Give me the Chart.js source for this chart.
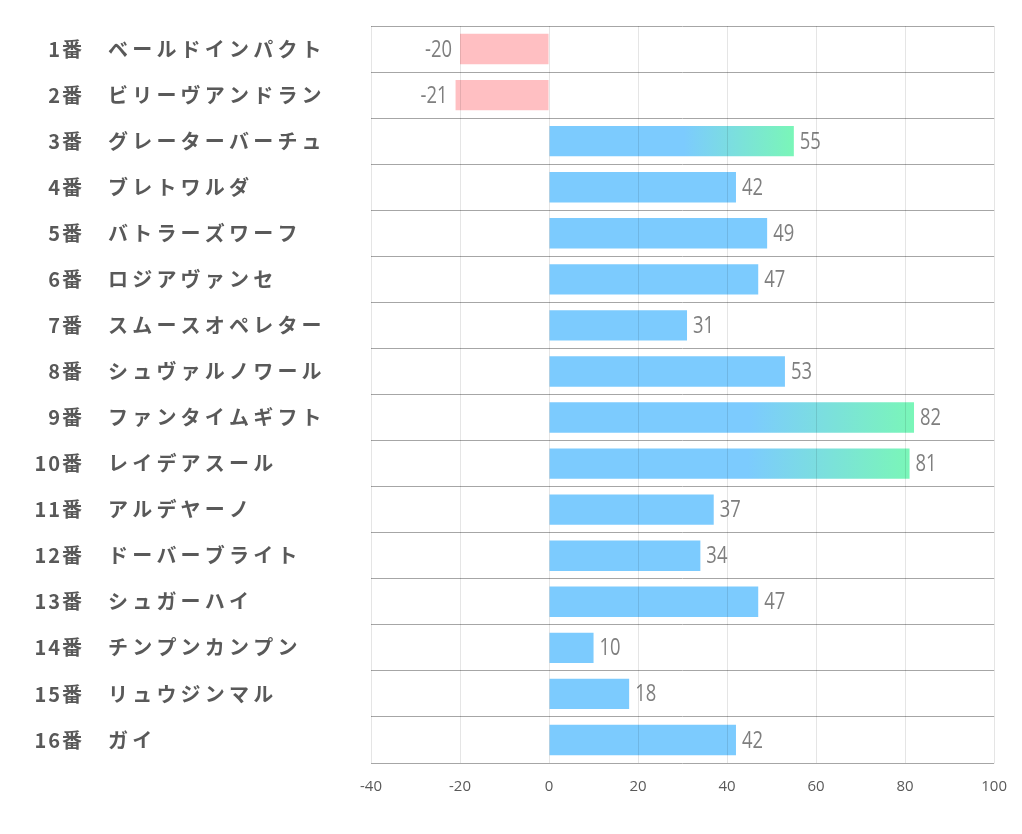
<!DOCTYPE html>
<html>
<head>
<meta charset="utf-8">
<script src="https://cdn.jsdelivr.net/npm/chart.js@4"></script>
<style>
    html, body { margin: 0; padding: 0; background: #fff; }
    #wrap { width: 1022px; height: 834px; position: relative; }
</style>
</head>
<body>
<div id="wrap"><canvas id="chart"></canvas></div>
<script>
// ================= DATA =================

const horseNumbers = ['1番', '2番', '3番', '4番', '5番', '6番', '7番', '8番',
    '9番', '10番', '11番', '12番', '13番', '14番', '15番', '16番'];
const horseNames = ['ベールドインパクト', 'ビリーヴアンドラン', 'グレーターバーチュ', 'ブレトワルダ',
    'バトラーズワーフ', 'ロジアヴァンセ', 'スムースオペレター', 'シュヴァルノワール',
    'ファンタイムギフト', 'レイデアスール', 'アルデヤーノ', 'ドーバーブライト',
    'シュガーハイ', 'チンプンカンプン', 'リュウジンマル', 'ガイ'];
const scores = [-20, -21, 55, 42, 49, 47, 31, 53, 82, 81, 37, 34, 47, 10, 18, 42];
const highlighted = [2, 8, 9];
const tickValues = [-40, -20, 0, 20, 40, 60, 80, 100];

// ================= COLORS =================

const BLUE = 'rgb(124, 203, 254)';
const GREEN = 'rgb(122, 246, 184)';
const PINK = 'rgb(255, 191, 194)';

function barColor(ctx) {
    const v = ctx.raw;
    if (v < 0) return PINK;
    if (!highlighted.includes(ctx.dataIndex)) return BLUE;
    const chart = ctx.chart;
    const xs = chart.scales.x;
    if (!chart.chartArea || !xs) return BLUE;
    const g = chart.ctx.createLinearGradient(xs.getPixelForValue(0), 0, xs.getPixelForValue(v), 0);
    g.addColorStop(0, BLUE);
    g.addColorStop(0.55, BLUE);
    g.addColorStop(1, GREEN);
    return g;
}

// ================= PLUGINS =================

const rowLabels = {
    id: 'rowLabels',
    afterDraw(chart) {
        const { ctx, scales: { y } } = chart;
        ctx.save();
        ctx.fillStyle = '#595959';
        ctx.font = 'bold 20px "Noto Sans CJK JP", sans-serif';
        ctx.textBaseline = 'middle';
        horseNames.forEach((name, i) => {
            const py = y.getPixelForValue(i);
            ctx.letterSpacing = '2px';
            ctx.textAlign = 'right';
            ctx.fillText(horseNumbers[i], 84, py);
            ctx.letterSpacing = '4.2px';
            ctx.textAlign = 'left';
            ctx.fillText(name, 108, py);
        });
        ctx.restore();
    }
};

// value text is a bit condensed, squeeze it horizontally
const valueLabels = {
    id: 'valueLabels',
    afterDatasetsDraw(chart) {
        const { ctx } = chart;
        const meta = chart.getDatasetMeta(0);
        const sx = 0.8;
        ctx.save();
        ctx.fillStyle = '#7f7f7f';
        ctx.font = '23px "Open Sans", sans-serif';
        ctx.textBaseline = 'middle';
        meta.data.forEach((bar, i) => {
            const v = scores[i];
            ctx.save();
            if (v < 0) {
                ctx.textAlign = 'right';
                ctx.translate(bar.x - 8, bar.y + 1);
            } else {
                ctx.textAlign = 'left';
                ctx.translate(bar.x + 6, bar.y + 1);
            }
            ctx.scale(sx, 1);
            ctx.fillText(String(v), 0, 0);
            ctx.restore();
        });
        ctx.restore();
    }
};

// ================= CHART =================

new Chart(document.getElementById('chart'), {
    type: 'bar',
    data: {
        labels: horseNames,
        datasets: [{
            data: scores,
            backgroundColor: barColor,
            borderWidth: 0,
            categoryPercentage: 1,
            barPercentage: 0.66
        }]
    },
    options: {
        indexAxis: 'y',
        responsive: true,
        maintainAspectRatio: false,
        animation: false,
        layout: { padding: { left: 371, right: 27, top: 26, bottom: 23 } },
        plugins: {
            legend: { display: false },
            tooltip: { enabled: false }
        },
        scales: {
            x: {
                min: -40,
                max: 100,
                afterBuildTicks: axis => { axis.ticks = tickValues.map(v => ({ value: v })); },
                grid: { color: 'rgba(0,0,0,0.1)', drawTicks: false, z: 1 },
                border: { display: false },
                ticks: {
                    color: '#595959',
                    padding: 15,
                    maxRotation: 0,
                    font: { family: '"Open Sans", sans-serif', size: 15 }
                }
            },
            y: {
                grid: { color: '#a6a6a6', drawTicks: false, offset: true },
                border: { display: false },
                ticks: { display: false }
            }
        }
    },
    plugins: [rowLabels, valueLabels]
});
</script>
</body>
</html>
